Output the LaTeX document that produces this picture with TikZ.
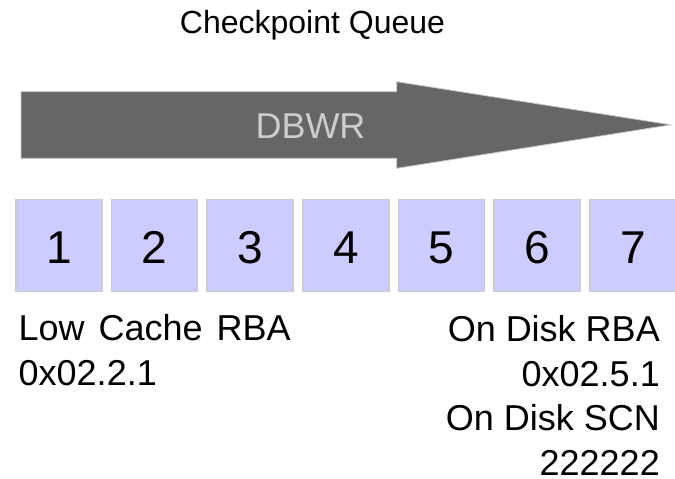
\documentclass[tikz,border=0pt]{standalone}
\usepackage{fontspec}
\setmainfont{Liberation Sans}
\usetikzlibrary{calc}
\definecolor{arrowgray}{HTML}{666666}
\definecolor{arrowedge}{HTML}{C8C8C8}
\definecolor{boxfill}{HTML}{CCCCFF}
\definecolor{boxedge}{HTML}{CCCCCC}
\definecolor{dbwrtext}{HTML}{CCCCCC}
\begin{document}
\begin{tikzpicture}[x=1pt,y=-1pt,
  qbox/.style={draw=boxedge,line width=1.6pt,fill=boxfill,minimum width=86pt,minimum height=92pt,inner sep=0pt,anchor=north west},
  num/.style={inner sep=0pt,anchor=base,font=\fontsize{46}{46}\selectfont},
  lbl/.style={inner sep=0pt,font=\fontsize{36}{44.4}\selectfont}]
\useasboundingbox (0,0) rectangle (675,479);
% title
\node[inner sep=0pt,anchor=base,font=\fontsize{32}{32}\selectfont] (title) at (312.5,33.3) {Checkpoint Queue};
% big arrow
\filldraw[fill=arrowgray,draw=arrowedge,line width=0.8pt]
  (21,91.7) -- (396.7,91.7) -- (396.7,81.7) -- (671,124.8) -- (396.7,168.3) -- (396.7,158.3) -- (21,158.3) -- cycle;
\node[inner sep=0pt,anchor=base,text=dbwrtext,font=\fontsize{36}{36}\selectfont] (dbwr) at (310.5,138.3) {DBWR};
% boxes
\foreach \i in {1,...,7}{
  \node[qbox] (b\i) at ({15+(\i-1)*95.67},198.7) {};
  \node[num] (n\i) at ($(b\i.north)+(0,64.6)$) {\i};
}
% labels (base anchor = baseline of the last line)
\node[lbl,anchor=base west,align=left] (low) at (18.5,385) {Low\hspace{4pt} Cache\hspace{4pt} RBA\\0x02.2.1};
\node[lbl,anchor=base east,align=right] (disk) at (660,475) {On Disk RBA\\0x02.5.1\\On Disk SCN\\222222};
\end{tikzpicture}
\end{document}
